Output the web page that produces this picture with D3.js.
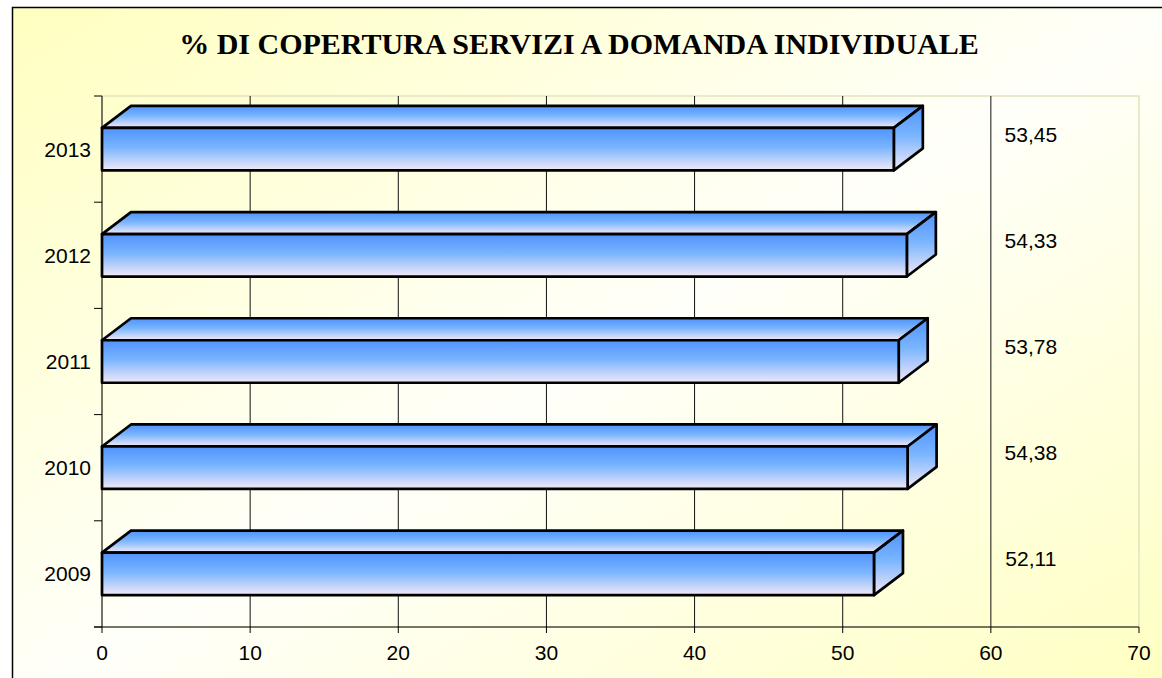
<!DOCTYPE html>
<html>
<head>
<meta charset="utf-8">
<style>
    body { margin: 0; background: #fff; }
    svg { display: block; }
    .title { font-family: 'Liberation Serif', 'Times New Roman', serif; font-weight: bold; }
    .lbl { font-family: 'Liberation Sans', Arial, sans-serif; }
</style>
</head>
<body>
<svg width="1162" height="678"></svg>
<script src="https://d3js.org/d3.v7.min.js"></script>
<script>
    // data
    const years = ["2009", "2010", "2011", "2012", "2013"];
    const values = [52.11, 54.38, 53.78, 54.33, 53.45];
    const xTicks = [0, 10, 20, 30, 40, 50, 60, 70];
    const title = "% DI COPERTURA SERVIZI A DOMANDA INDIVIDUALE";

    const it = d3.formatLocale({decimal: ",", thousands: ".", grouping: [3], currency: ["", "€"]});
    const fmt = it.format(".2f");

    let svg = d3.select("svg");
    let defs = svg.append("defs");

    // background gradient yellow - white - yellow
    let bg = defs.append("linearGradient").attr("id", "bg")
        .attr("x1", "0%").attr("y1", "0%").attr("x2", "100%").attr("y2", "100%");
    bg.append("stop").attr("offset", "0%").attr("stop-color", "#ffffc0");
    bg.append("stop").attr("offset", "50%").attr("stop-color", "#fffffa");
    bg.append("stop").attr("offset", "100%").attr("stop-color", "#ffffc0");

    let barG = defs.append("linearGradient").attr("id", "bar")
        .attr("x1", "0").attr("y1", "0").attr("x2", "0").attr("y2", "1");
    barG.append("stop").attr("offset", "0%").attr("stop-color", "#5093fb");
    barG.append("stop").attr("offset", "45%").attr("stop-color", "#78b4ff");
    barG.append("stop").attr("offset", "100%").attr("stop-color", "#f3e9f6");

    svg.append("rect")
        .attr("x", 12.5).attr("y", 7.5)
        .attr("width", 1170).attr("height", 700)
        .attr("fill", "url(#bg)")
        .attr("stroke", "#000").attr("stroke-width", 1.5);

    svg.append("text").attr("class", "title")
        .attr("x", 579).attr("y", 54)
        .attr("text-anchor", "middle")
        .style("font-size", "30px")
        .text(title);

    let x = d3.scaleLinear().domain([0, 70]).range([102, 1139]);
    let y = d3.scaleBand().domain(years.slice().reverse())
        .range([96, 627]).paddingInner(0.6).paddingOuter(0.3);
    let step = y.step();
    let plotTop = 96, plotBottom = 627;

    // plot area
    svg.append("rect")
        .attr("x", x(0)).attr("y", plotTop)
        .attr("width", x(70) - x(0)).attr("height", plotBottom - plotTop)
        .attr("fill", "none")
        .attr("stroke", "#e4e4bc").attr("stroke-width", 1.5);

    // gridlines
    svg.append("g").selectAll("line")
        .data(xTicks.filter(d => d > 0 && d < 70))
        .join("line")
        .attr("x1", d => x(d)).attr("x2", d => x(d))
        .attr("y1", plotTop).attr("y2", plotBottom)
        .attr("stroke", "#111").attr("stroke-width", 1);

    // axes
    svg.append("line")
        .attr("x1", x(0)).attr("x2", x(0)).attr("y1", plotTop).attr("y2", plotBottom)
        .attr("stroke", "#000");
    svg.append("line")
        .attr("x1", x(0) - 8).attr("x2", x(70)).attr("y1", plotBottom).attr("y2", plotBottom)
        .attr("stroke", "#000");

    let edges = d3.range(years.length + 1).map(i => plotTop + i * step);
    svg.append("g").selectAll("line")
        .data(edges)
        .join("line")
        .attr("x1", x(0) - 8).attr("x2", x(0))
        .attr("y1", d => d).attr("y2", d => d)
        .attr("stroke", "#000");

    svg.append("g").selectAll("line")
        .data(xTicks)
        .join("line")
        .attr("x1", d => x(d)).attr("x2", d => x(d))
        .attr("y1", plotBottom).attr("y2", plotBottom + 6)
        .attr("stroke", "#000");

    svg.append("g").selectAll("text")
        .data(xTicks)
        .join("text").attr("class", "lbl")
        .attr("x", d => x(d)).attr("y", plotBottom + 25)
        .attr("text-anchor", "middle")
        .attr("dominant-baseline", "central")
        .style("font-size", "21px")
        .text(d => d);

    svg.append("g").selectAll("text")
        .data(years)
        .join("text").attr("class", "lbl")
        .attr("x", 91)
        .attr("y", d => y(d) + y.bandwidth() / 2)
        .attr("text-anchor", "end")
        .attr("dominant-baseline", "central")
        .style("font-size", "21px")
        .text(d => d);

    // 3d bars
    let dx = 29, dy = 22;
    let bars = svg.append("g").selectAll("g")
        .data(years.map((d, i) => ({year: d, value: values[i]})))
        .join("g")
        .attr("fill", "url(#bar)")
        .attr("stroke", "#000")
        .attr("stroke-width", 2.7)
        .attr("stroke-linejoin", "round");

    bars.append("path")
        .attr("d", d => {
            let y0 = y(d.year), x0 = x(0), x1 = x(d.value);
            return `M${x0},${y0}L${x0 + dx},${y0 - dy}L${x1 + dx},${y0 - dy}L${x1},${y0}Z`;
        });
    bars.append("path")
        .attr("d", d => {
            let y0 = y(d.year), y1 = y0 + y.bandwidth(), x1 = x(d.value);
            return `M${x1},${y0}L${x1 + dx},${y0 - dy}L${x1 + dx},${y1 - dy}L${x1},${y1}Z`;
        });
    bars.append("rect")
        .attr("x", x(0))
        .attr("y", d => y(d.year))
        .attr("width", d => x(d.value) - x(0))
        .attr("height", y.bandwidth());

    // value labels
    svg.append("g").selectAll("text")
        .data(years.map((d, i) => ({year: d, value: values[i]})))
        .join("text").attr("class", "lbl")
        .attr("x", x(62.7))
        .attr("y", d => y(d.year) + y.bandwidth() / 2 - 15)
        .attr("text-anchor", "middle")
        .attr("dominant-baseline", "central")
        .style("font-size", "21px")
        .text(d => fmt(d.value));
</script>
</body>
</html>
